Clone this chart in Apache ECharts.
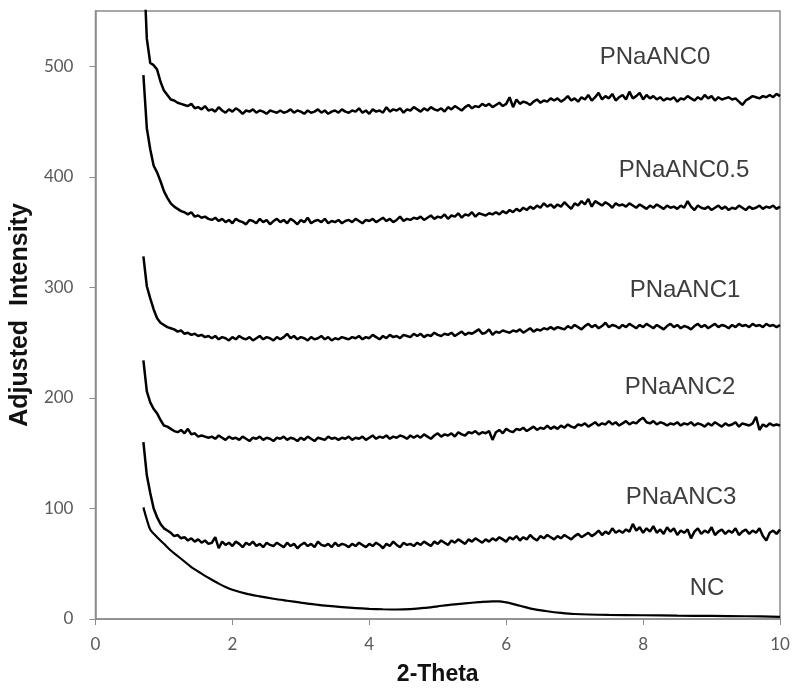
<!DOCTYPE html>
<html>
<head>
<meta charset="utf-8">
<script src="https://cdn.jsdelivr.net/npm/echarts@6/dist/echarts.min.js"></script>
<style>html,body{margin:0;padding:0;background:#fff}#c{width:795px;height:691px}</style>
</head>
<body>
<div id="c"></div>
<script>
// Sampling of the noisy scans: start 0.70, step 0.05 (2-Theta)
const scanStart = 0.70;
const scanStep = 0.05;

const pnaanc0 = [
  600, 525, 503, 501, 497, 486, 478, 474, 470, 469, 467, 466, 465, 464, 466, 462, 463, 461, 464, 460,
  461, 459, 463, 460, 458, 461, 459, 462, 460, 457, 460, 459, 461, 458, 460, 459, 457, 460, 459, 458,
  460, 458, 459, 461, 458, 460, 459, 457, 460, 458, 459, 461, 458, 460, 457, 459, 460, 458, 461, 459,
  458, 460, 459, 462, 458, 460, 457, 461, 459, 460, 458, 463, 459, 461, 460, 462, 458, 461, 460, 463,
  461, 459, 462, 460, 463, 461, 460, 462, 459, 463, 461, 464, 462, 460, 463, 465, 462, 464, 463, 466,
  464, 466, 463, 465, 467, 464, 466, 472, 463, 470, 466, 468, 467, 465, 468, 470, 467, 469, 468, 471,
  469, 471, 468, 470, 473, 469, 471, 468, 472, 470, 474, 469, 472, 476, 470, 473, 471, 475, 469, 472,
  474, 470, 477, 471, 473, 476, 470, 474, 471, 473, 470, 472, 469, 471, 470, 472, 468, 471, 470, 473,
  471, 469, 472, 470, 474, 471, 473, 469, 472, 470, 471, 472, 470, 471, 468, 465, 469, 471, 473, 472,
  471, 473, 472, 474, 472, 475, 473
];
const pnaanc05 = [
  492, 444, 425, 410, 404, 396, 387, 381, 376, 373, 371, 369, 368, 366, 368, 364, 365, 363, 364, 362,
  361, 363, 360, 362, 359, 361, 358, 362, 360, 359, 357, 361, 360, 358, 362, 359, 361, 357, 360, 362,
  359, 361, 358, 362, 360, 357, 361, 359, 363, 358, 360, 361, 359, 362, 358, 360, 359, 361, 358, 360,
  361, 359, 362, 360, 358, 361, 360, 362, 359, 361, 363, 360, 362, 359, 361, 364, 360, 362, 361, 363,
  362, 364, 361, 363, 365, 362, 364, 363, 366, 362, 365, 364, 367, 363, 366, 365, 368, 364, 367, 366,
  365, 367, 366, 368, 366, 369, 367, 370, 368, 371, 369, 372, 370, 373, 371, 374, 372, 376, 373, 375,
  372, 375, 373, 377, 374, 371, 376, 374, 378, 375, 380, 373, 378, 376, 374, 377, 375, 372, 376, 374,
  375, 373, 376, 374, 372, 375, 373, 371, 374, 372, 375, 373, 371, 374, 372, 373, 371, 374, 372, 378,
  373, 370, 374, 372, 371, 373, 370, 372, 374, 371, 373, 370, 372, 371, 374, 372, 370, 373, 371, 372,
  374, 371, 373, 372, 374, 371, 373
];
const pnaanc1 = [
  328, 301, 290, 280, 272, 268, 266, 264, 263, 262, 260, 261, 258, 259, 257, 258, 256, 257, 255, 256,
  254, 256, 253, 255, 254, 252, 255, 253, 256, 254, 253, 255, 252, 254, 256, 253, 255, 254, 252, 255,
  253, 255, 258, 254, 256, 253, 255, 254, 252, 255, 253, 254, 256, 253, 255, 252, 254, 253, 255, 254,
  253, 255, 254, 256, 253, 255, 254, 257, 255, 253, 256, 254, 257, 255, 256, 254, 257, 256, 255, 258,
  256, 258, 255, 257, 256, 259, 257, 256, 258, 257, 259, 256, 258, 260, 257, 259, 258, 260, 262, 258,
  259, 262, 257, 260, 259, 261, 260, 259, 261, 260, 262, 259, 261, 263, 260, 262, 261, 263, 262, 264,
  262, 264, 263, 262, 265, 263, 266, 264, 262, 265, 267, 264, 266, 263, 265, 268, 264, 266, 265, 263,
  266, 264, 267, 265, 263, 266, 264, 267, 265, 263, 266, 264, 262, 265, 267, 264, 266, 263, 265, 264,
  262, 265, 267, 264, 266, 263, 265, 267, 264, 266, 265, 263, 266, 264, 267, 265, 266, 264, 267, 265,
  266, 264, 267, 265, 266, 264, 266
];
const pnaanc2 = [
  234, 206, 196, 190, 186, 180, 175, 174, 172, 170, 169, 171, 168, 172, 167, 168, 165, 166, 165, 164,
  165, 163, 166, 164, 162, 165, 163, 164, 162, 165, 163, 161, 164, 163, 165, 162, 164, 163, 161, 164,
  163, 165, 162, 164, 163, 161, 164, 162, 165, 163, 161, 164, 163, 162, 165, 163, 164, 162, 164, 163,
  165, 162, 164, 163, 165, 162, 164, 166, 163, 165, 164, 166, 163, 165, 164, 166, 165, 163, 166, 164,
  166, 164, 167, 165, 163, 166, 168, 165, 167, 166, 168, 165, 169, 167, 166, 169, 168, 170, 167, 169,
  168, 170, 162, 169, 171, 168, 172, 170, 169, 172, 171, 173, 170, 172, 174, 171, 173, 172, 175, 172,
  174, 172, 175, 173, 176, 174, 173, 176, 175, 177, 174, 176, 178, 175, 177, 176, 179, 176, 178, 175,
  177, 179, 176, 178, 177, 180, 182, 178, 177, 179, 176, 178, 177, 175, 177, 176, 178, 175, 177, 176,
  178, 175, 177, 176, 174, 177, 175, 178, 176, 174, 177, 175, 176, 178, 174, 177, 176, 175, 177, 183,
  171, 176, 174, 177, 175, 176, 175
];
const pnaanc3 = [
  160, 130, 114, 100, 92, 86, 82, 80, 78, 75, 76, 73, 74, 71, 73, 70, 72, 69, 71, 68,
  69, 74, 64, 70, 67, 69, 66, 70, 68, 65, 69, 67, 70, 66, 68, 65, 69, 67, 66, 69,
  67, 65, 69, 66, 68, 64, 67, 69, 66, 68, 65, 70, 67, 66, 68, 65, 69, 66, 68, 67,
  65, 68, 66, 69, 67, 65, 68, 66, 69, 67, 64, 68, 66, 70, 67, 65, 69, 67, 68, 66,
  69, 67, 70, 68, 66, 70, 68, 71, 69, 67, 71, 69, 72, 70, 68, 72, 70, 73, 71, 69,
  72, 70, 73, 71, 74, 72, 70, 74, 72, 75, 71, 74, 72, 76, 73, 71, 75, 73, 76, 74,
  72, 75, 73, 76, 74, 72, 75, 77, 74, 76, 78, 75, 77, 80, 76, 79, 77, 82, 78, 80,
  78, 81, 79, 86, 80, 83, 78, 82, 79, 84, 78, 81, 77, 83, 79, 82, 76, 80, 78, 81,
  73, 79, 82, 77, 80, 78, 83, 76, 79, 81, 77, 80, 78, 82, 76, 79, 81, 77, 80, 78,
  82, 75, 71, 78, 80, 77, 81
];
// NC: smooth curve, sampled points
const ncX = [0.70, 0.75, 0.80, 0.90, 1.00, 1.10, 1.20, 1.30, 1.40, 1.50, 1.60, 1.70, 1.80, 1.90, 2.00, 2.20, 2.40, 2.60, 2.80, 3.00, 3.20, 3.40, 3.60, 3.80, 4.00, 4.20, 4.40, 4.60, 4.80, 5.00, 5.20, 5.40, 5.60, 5.80, 5.90, 6.00, 6.20, 6.40, 6.60, 6.80, 7.00, 7.50, 8.00, 8.50, 9.00, 9.50, 10.00];
const ncY = [101, 90, 81, 74, 68, 62, 57, 52, 47, 43, 39, 35.5, 32, 29, 26.5, 23, 20.5, 18.3, 16.5, 14.8, 13.2, 11.8, 10.7, 9.8, 9.2, 8.8, 8.6, 9, 10, 11.5, 13, 14.2, 15.2, 16, 16, 15, 12, 9, 7, 5.5, 4.5, 3.7, 3.4, 3, 2.8, 2.5, 2];

const seriesNames = ['PNaANC0', 'PNaANC0.5', 'PNaANC1', 'PNaANC2', 'PNaANC3', 'NC'];
const xTicks = [0, 2, 4, 6, 8, 10];
const yTicks = [0, 100, 200, 300, 400, 500];

// annotation label placement (pixel layout only)
const labelPos = [[655, 57], [684, 170], [685, 290], [680, 387], [681, 497], [707, 588]];

function toPairs(vals) {
  return vals.map(function (v, i) {
    return [Math.round((scanStart + i * scanStep) * 100) / 100, v];
  });
}
const scans = [pnaanc0, pnaanc05, pnaanc1, pnaanc2, pnaanc3];
const series = scans.map(function (vals, k) {
  return {
    name: seriesNames[k], type: 'line', data: toPairs(vals), showSymbol: false,
    lineStyle: { color: '#000', width: 2.5 }, clip: true, silent: true
  };
});
series.push({
  name: 'NC', type: 'line', data: ncX.map(function (x, i) { return [x, ncY[i]]; }),
  showSymbol: false, smooth: 0.3, lineStyle: { color: '#000', width: 2.2 }, silent: true
});

const chart = echarts.init(document.getElementById('c'), null, { renderer: 'canvas' });
chart.setOption({
  animation: false,
  backgroundColor: '#fff',
  grid: { left: 92, right: 15, top: 11, bottom: 70, show: true, borderColor: '#8c8c8c', borderWidth: 1.5, containLabel: false },
  xAxis: {
    type: 'value', min: 0, max: 10, interval: 2,
    name: '2-Theta', nameLocation: 'middle', nameGap: 44,
    nameTextStyle: { fontFamily: 'Liberation Sans', fontWeight: 'bold', fontSize: 23, color: '#111' },
    axisLine: { show: true, lineStyle: { color: '#8c8c8c', width: 1.5 } },
    axisTick: { show: true, inside: false, length: 6, lineStyle: { color: '#8c8c8c' } },
    axisLabel: { margin: 17, fontFamily: 'Lato', fontSize: 17, color: '#595959' },
    splitLine: { show: false }
  },
  yAxis: {
    type: 'value', min: 0, max: 550, interval: 100,
    name: 'Adjusted  Intensity', nameLocation: 'middle', nameGap: 53,
    nameTextStyle: { fontFamily: 'Liberation Sans', fontWeight: 'bold', fontSize: 25, color: '#111' },
    axisLine: { show: true, lineStyle: { color: '#8c8c8c', width: 1.5 } },
    axisTick: { show: true, inside: false, length: 6, lineStyle: { color: '#8c8c8c' } },
    axisLabel: {
      margin: 22, fontFamily: 'Lato', fontSize: 17, color: '#595959', showMaxLabel: false,
      formatter: function (v) { return yTicks.indexOf(v) >= 0 ? String(v) : ''; }
    },
    splitLine: { show: false }
  },
  series: series,
  graphic: seriesNames.map(function (n, i) {
    return {
      type: 'text', x: labelPos[i][0], y: labelPos[i][1], silent: true,
      style: { text: n, fill: '#3d3d3d', font: '24px "Liberation Sans"', textAlign: 'center', textVerticalAlign: 'middle' }
    };
  })
});
</script>
</body>
</html>
